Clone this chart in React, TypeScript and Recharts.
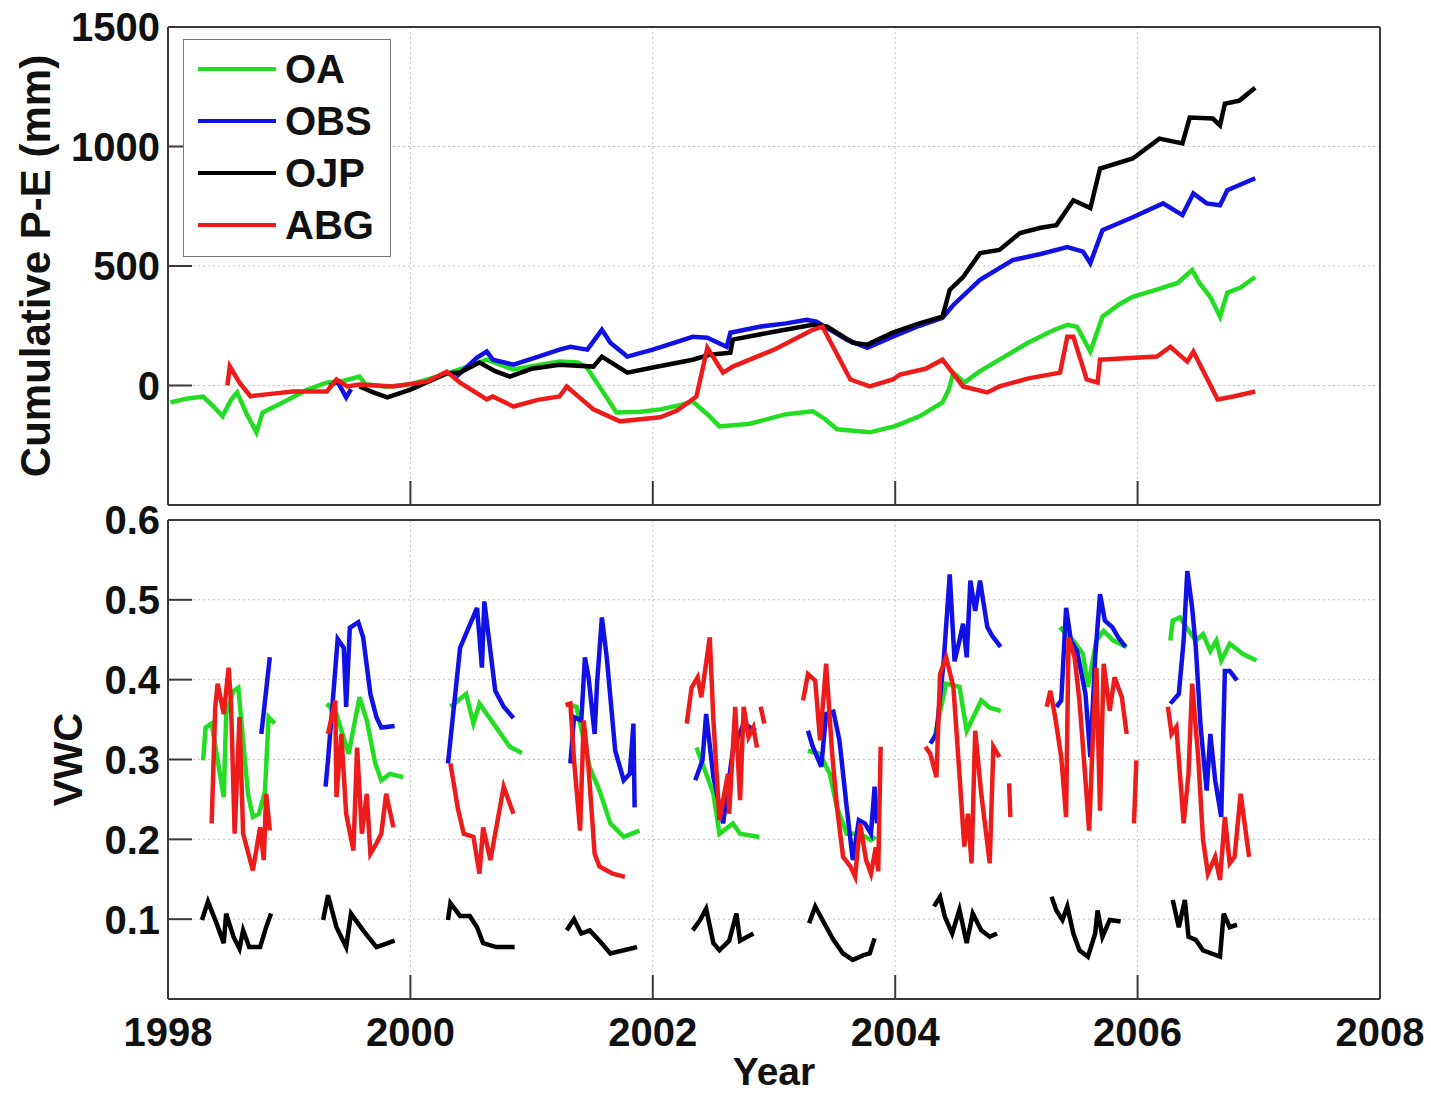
import { LineChart, Line, XAxis, YAxis, CartesianGrid, Legend } from 'recharts';

type Pt = [number, number];

const YEAR_TICKS = [1998, 2000, 2002, 2004, 2006, 2008];
const PE_TICKS = [0, 500, 1000, 1500];
const VWC_TICKS = [0.1, 0.2, 0.3, 0.4, 0.5, 0.6];

const SITES = ['OA', 'OBS', 'OJP', 'ABG'];
const COLORS = ['#22dd22', '#1111e6', '#000000', '#ee1b1b'];

// cumulative P-E (mm) as [year, value]
const peOA: Pt[][] = [[
  [1998.02, -71], [1998.15, -55], [1998.29, -46], [1998.38, -90], [1998.45, -129], [1998.52, -60], [1998.57, -29],
  [1998.65, -120], [1998.73, -196], [1998.78, -113], [1998.95, -70], [1999.15, -17], [1999.31, 12], [1999.45, 20],
  [1999.58, 37], [1999.63, 5], [1999.8, -5], [2000.0, 5], [2000.3, 50], [2000.45, 75], [2000.63, 108], [2000.85, 67],
  [2001.05, 85], [2001.23, 100], [2001.38, 96], [2001.45, 79], [2001.58, -20], [2001.7, -113], [2001.9, -110],
  [2002.06, -100], [2002.2, -85], [2002.33, -67], [2002.45, -120], [2002.55, -171], [2002.8, -160], [2003.1, -120],
  [2003.32, -108], [2003.42, -140], [2003.52, -183], [2003.79, -196], [2004.0, -170], [2004.2, -129], [2004.39, -71],
  [2004.44, -20], [2004.48, 54], [2004.57, 12], [2004.7, 60], [2004.86, 108], [2005.1, 180], [2005.3, 230],
  [2005.42, 254], [2005.5, 246], [2005.61, 142], [2005.71, 288], [2005.85, 340], [2005.96, 371], [2006.15, 400],
  [2006.33, 429], [2006.45, 483], [2006.51, 429], [2006.6, 370], [2006.68, 288], [2006.74, 388], [2006.85, 410],
  [2006.97, 454],
]];
const peOBS: Pt[][] = [
  [[1999.33, 0], [1999.4, 15], [1999.47, -50], [1999.51, -15]],
  [
    [2000.38, 37], [2000.55, 117], [2000.63, 142], [2000.68, 108], [2000.85, 87], [2001.05, 120], [2001.23, 150],
    [2001.32, 162], [2001.46, 150], [2001.58, 233], [2001.65, 179], [2001.79, 121], [2002.0, 150], [2002.33, 204],
    [2002.45, 200], [2002.61, 162], [2002.64, 221], [2002.88, 246], [2003.1, 260], [2003.27, 275], [2003.35, 267],
    [2003.6, 192], [2003.77, 158], [2003.98, 204], [2004.2, 250], [2004.39, 283], [2004.48, 337], [2004.7, 442],
    [2004.97, 525], [2005.2, 550], [2005.42, 579], [2005.55, 560], [2005.61, 512], [2005.71, 650], [2005.96, 704],
    [2006.21, 762], [2006.37, 713], [2006.46, 804], [2006.57, 762], [2006.68, 754], [2006.74, 817], [2006.97, 867],
  ],
];
const peOJP: Pt[][] = [[
  [1999.58, -4], [1999.7, -30], [1999.81, -50], [2000.0, -17], [2000.3, 50], [2000.41, 54], [2000.57, 96],
  [2000.7, 60], [2000.82, 37], [2001.0, 70], [2001.23, 87], [2001.51, 79], [2001.58, 121], [2001.79, 54],
  [2002.0, 75], [2002.33, 108], [2002.47, 129], [2002.64, 137], [2002.66, 192], [2003.0, 225], [2003.32, 254],
  [2003.44, 246], [2003.65, 179], [2003.77, 171], [2003.98, 221], [2004.2, 260], [2004.39, 288], [2004.45, 400],
  [2004.56, 454], [2004.7, 554], [2004.86, 567], [2005.03, 638], [2005.2, 660], [2005.33, 671], [2005.47, 775],
  [2005.61, 742], [2005.69, 908], [2005.96, 950], [2006.18, 1033], [2006.37, 1013], [2006.43, 1121],
  [2006.62, 1117], [2006.68, 1088], [2006.72, 1179], [2006.84, 1192], [2006.97, 1246],
]];
const peABG: Pt[][] = [[
  [1998.49, 0], [1998.51, 80], [1998.59, 12], [1998.68, -45], [1998.85, -35], [1999.03, -25], [1999.31, -25],
  [1999.39, 25], [1999.48, -4], [1999.58, 4], [1999.86, -4], [2000.14, 17], [2000.3, 58], [2000.41, 12],
  [2000.63, -58], [2000.68, -46], [2000.85, -88], [2001.05, -60], [2001.23, -46], [2001.29, -4], [2001.51, -100],
  [2001.73, -150], [2002.06, -133], [2002.2, -105], [2002.36, -46], [2002.45, 158], [2002.58, 54], [2002.66, 79],
  [2003.0, 150], [2003.32, 233], [2003.4, 246], [2003.63, 25], [2003.79, -4], [2003.98, 25], [2004.04, 46],
  [2004.25, 70], [2004.39, 108], [2004.56, -4], [2004.76, -29], [2004.86, -4], [2005.1, 30], [2005.36, 54],
  [2005.42, 204], [2005.47, 204], [2005.58, 25], [2005.67, 12], [2005.69, 108], [2006.16, 121], [2006.27, 162],
  [2006.41, 100], [2006.46, 142], [2006.66, -58], [2006.79, -46], [2006.97, -25],
]];

// soil volumetric water content, one list per growing season
const vwcOA: Pt[][] = [
  [[1998.29, 0.299], [1998.31, 0.34], [1998.36, 0.345], [1998.46, 0.253], [1998.48, 0.357], [1998.54, 0.386],
    [1998.58, 0.39], [1998.66, 0.257], [1998.7, 0.228], [1998.75, 0.232], [1998.8, 0.26], [1998.83, 0.353], [1998.88, 0.345]],
  [[1999.31, 0.37], [1999.39, 0.357], [1999.49, 0.307], [1999.58, 0.378], [1999.64, 0.349], [1999.71, 0.295],
    [1999.76, 0.274], [1999.83, 0.282], [1999.94, 0.278]],
  [[2000.33, 0.366], [2000.46, 0.382], [2000.52, 0.345], [2000.57, 0.37], [2000.82, 0.316], [2000.92, 0.308]],
  [[2001.29, 0.37], [2001.37, 0.366], [2001.48, 0.29], [2001.56, 0.261], [2001.65, 0.22], [2001.76, 0.203], [2001.89, 0.211]],
  [[2002.36, 0.315], [2002.41, 0.295], [2002.5, 0.257], [2002.55, 0.207], [2002.66, 0.22], [2002.72, 0.207], [2002.88, 0.203]],
  [[2003.28, 0.311], [2003.38, 0.307], [2003.46, 0.282], [2003.52, 0.24], [2003.6, 0.207], [2003.71, 0.207],
    [2003.8, 0.199], [2003.84, 0.203]],
  [[2004.32, 0.324], [2004.42, 0.395], [2004.53, 0.391], [2004.59, 0.336], [2004.71, 0.374], [2004.78, 0.365], [2004.87, 0.361]],
  [[2005.36, 0.466], [2005.41, 0.457], [2005.47, 0.449], [2005.55, 0.432], [2005.59, 0.391], [2005.66, 0.449],
    [2005.72, 0.461], [2005.8, 0.449], [2005.91, 0.441]],
  [[2006.27, 0.449], [2006.29, 0.474], [2006.35, 0.478], [2006.4, 0.466], [2006.48, 0.449], [2006.54, 0.457],
    [2006.6, 0.436], [2006.65, 0.449], [2006.69, 0.424], [2006.76, 0.445], [2006.87, 0.432], [2006.98, 0.424]],
];
const vwcOBS: Pt[][] = [
  [[1998.77, 0.332], [1998.84, 0.428]],
  [[1999.3, 0.266], [1999.32, 0.299], [1999.36, 0.374], [1999.4, 0.451], [1999.45, 0.44], [1999.47, 0.366],
    [1999.5, 0.465], [1999.57, 0.472], [1999.61, 0.453], [1999.67, 0.382], [1999.72, 0.353], [1999.76, 0.34], [1999.87, 0.342]],
  [[2000.31, 0.295], [2000.41, 0.44], [2000.55, 0.49], [2000.59, 0.415], [2000.61, 0.498], [2000.7, 0.386],
    [2000.77, 0.366], [2000.85, 0.352]],
  [[2001.32, 0.295], [2001.35, 0.353], [2001.41, 0.349], [2001.44, 0.428], [2001.47, 0.403], [2001.52, 0.332],
    [2001.54, 0.395], [2001.58, 0.478], [2001.62, 0.428], [2001.69, 0.311], [2001.76, 0.274], [2001.81, 0.282],
    [2001.84, 0.345], [2001.85, 0.24]],
  [[2002.35, 0.274], [2002.41, 0.299], [2002.44, 0.357], [2002.5, 0.278], [2002.58, 0.22], [2002.66, 0.311],
    [2002.75, 0.345], [2002.85, 0.336]],
  [[2003.28, 0.336], [2003.32, 0.316], [2003.39, 0.291], [2003.43, 0.357], [2003.49, 0.36], [2003.54, 0.324],
    [2003.6, 0.24], [2003.65, 0.174], [2003.7, 0.224], [2003.75, 0.22], [2003.8, 0.207], [2003.83, 0.266], [2003.85, 0.22]],
  [[2004.29, 0.32], [2004.34, 0.332], [2004.4, 0.423], [2004.45, 0.532], [2004.49, 0.423], [2004.53, 0.449],
    [2004.56, 0.47], [2004.59, 0.428], [2004.62, 0.524], [2004.66, 0.486], [2004.7, 0.524], [2004.76, 0.466],
    [2004.8, 0.455], [2004.87, 0.441]],
  [[2005.33, 0.366], [2005.37, 0.374], [2005.41, 0.49], [2005.45, 0.449], [2005.5, 0.436], [2005.57, 0.382],
    [2005.61, 0.303], [2005.65, 0.428], [2005.69, 0.507], [2005.73, 0.474], [2005.79, 0.466], [2005.84, 0.453], [2005.9, 0.441]],
  [[2006.27, 0.37], [2006.34, 0.382], [2006.38, 0.449], [2006.41, 0.536], [2006.45, 0.49], [2006.48, 0.441],
    [2006.52, 0.341], [2006.57, 0.261], [2006.6, 0.332], [2006.64, 0.274], [2006.69, 0.228], [2006.72, 0.411],
    [2006.76, 0.411], [2006.82, 0.399]],
];
const vwcOJP: Pt[][] = [
  [[1998.28, 0.099], [1998.33, 0.122], [1998.4, 0.095], [1998.46, 0.07], [1998.48, 0.107], [1998.54, 0.078],
    [1998.59, 0.063], [1998.62, 0.086], [1998.67, 0.065], [1998.76, 0.065], [1998.81, 0.09], [1998.85, 0.107]],
  [[1999.28, 0.099], [1999.32, 0.13], [1999.39, 0.09], [1999.47, 0.065], [1999.51, 0.107], [1999.61, 0.086],
    [1999.72, 0.065], [1999.83, 0.071], [1999.87, 0.073]],
  [[2000.31, 0.099], [2000.33, 0.12], [2000.41, 0.104], [2000.49, 0.104], [2000.55, 0.09], [2000.6, 0.07],
    [2000.71, 0.065], [2000.86, 0.065]],
  [[2001.29, 0.086], [2001.35, 0.1], [2001.41, 0.082], [2001.48, 0.086], [2001.56, 0.073], [2001.65, 0.057],
    [2001.76, 0.061], [2001.87, 0.065]],
  [[2002.33, 0.086], [2002.39, 0.099], [2002.44, 0.113], [2002.5, 0.07], [2002.55, 0.061], [2002.63, 0.073],
    [2002.69, 0.107], [2002.72, 0.073], [2002.83, 0.082]],
  [[2003.29, 0.095], [2003.34, 0.116], [2003.4, 0.099], [2003.49, 0.074], [2003.57, 0.057], [2003.65, 0.049],
    [2003.74, 0.055], [2003.79, 0.057], [2003.83, 0.076]],
  [[2004.32, 0.116], [2004.37, 0.128], [2004.41, 0.103], [2004.47, 0.082], [2004.53, 0.112], [2004.59, 0.07],
    [2004.64, 0.107], [2004.71, 0.086], [2004.78, 0.078], [2004.84, 0.082]],
  [[2005.29, 0.128], [2005.33, 0.111], [2005.38, 0.099], [2005.42, 0.116], [2005.47, 0.082], [2005.52, 0.061],
    [2005.59, 0.053], [2005.65, 0.082], [2005.67, 0.111], [2005.71, 0.078], [2005.77, 0.099], [2005.86, 0.097]],
  [[2006.29, 0.124], [2006.34, 0.09], [2006.39, 0.124], [2006.42, 0.078], [2006.48, 0.074], [2006.54, 0.061],
    [2006.61, 0.057], [2006.68, 0.053], [2006.71, 0.107], [2006.76, 0.09], [2006.82, 0.093]],
];
const vwcABG: Pt[][] = [
  [[1998.36, 0.22], [1998.39, 0.366], [1998.41, 0.395], [1998.46, 0.357], [1998.5, 0.415], [1998.52, 0.37],
    [1998.55, 0.207], [1998.59, 0.353], [1998.62, 0.207], [1998.7, 0.161], [1998.76, 0.215], [1998.79, 0.174],
    [1998.81, 0.257], [1998.84, 0.211]],
  [[1999.32, 0.332], [1999.38, 0.374], [1999.39, 0.253], [1999.43, 0.332], [1999.47, 0.232], [1999.53, 0.186],
    [1999.56, 0.315], [1999.6, 0.207], [1999.64, 0.257], [1999.67, 0.182], [1999.72, 0.195], [1999.76, 0.207],
    [1999.8, 0.257], [1999.86, 0.215]],
  [[2000.33, 0.295], [2000.39, 0.24], [2000.44, 0.207], [2000.52, 0.203], [2000.57, 0.157], [2000.6, 0.215],
    [2000.66, 0.174], [2000.77, 0.266], [2000.85, 0.232]],
  [[2001.28, 0.368], [2001.32, 0.37], [2001.35, 0.299], [2001.4, 0.211], [2001.43, 0.349], [2001.47, 0.29],
    [2001.52, 0.182], [2001.56, 0.166], [2001.62, 0.161], [2001.67, 0.157], [2001.77, 0.153]],
  [[2002.28, 0.345], [2002.32, 0.39], [2002.37, 0.403], [2002.4, 0.378], [2002.47, 0.453], [2002.5, 0.349],
    [2002.55, 0.224], [2002.62, 0.282], [2002.63, 0.232], [2002.68, 0.366], [2002.72, 0.249], [2002.75, 0.366],
    [2002.79, 0.328], [2002.83, 0.34], [2002.86, 0.315]],
  [[2002.89, 0.366], [2002.92, 0.345]],
  [[2003.24, 0.374], [2003.28, 0.407], [2003.34, 0.399], [2003.38, 0.324], [2003.43, 0.42], [2003.48, 0.307],
    [2003.52, 0.24], [2003.57, 0.178], [2003.63, 0.166], [2003.67, 0.153], [2003.71, 0.22], [2003.76, 0.174],
    [2003.8, 0.157], [2003.84, 0.19], [2003.86, 0.16], [2003.88, 0.316]],
  [[2004.25, 0.316], [2004.29, 0.307], [2004.34, 0.278], [2004.37, 0.407], [2004.42, 0.428], [2004.48, 0.391],
    [2004.53, 0.282], [2004.57, 0.191], [2004.6, 0.232], [2004.63, 0.17], [2004.66, 0.336], [2004.71, 0.257],
    [2004.78, 0.17], [2004.81, 0.316], [2004.86, 0.303]],
  [[2004.94, 0.27], [2004.95, 0.228]],
  [[2005.25, 0.366], [2005.28, 0.386], [2005.32, 0.353], [2005.37, 0.303], [2005.41, 0.228], [2005.43, 0.453],
    [2005.48, 0.428], [2005.52, 0.374], [2005.57, 0.274], [2005.6, 0.211], [2005.63, 0.324], [2005.66, 0.415],
    [2005.69, 0.236], [2005.72, 0.42], [2005.77, 0.361], [2005.81, 0.403], [2005.87, 0.378], [2005.91, 0.332]],
  [[2005.97, 0.22], [2005.99, 0.299]],
  [[2006.25, 0.366], [2006.28, 0.332], [2006.32, 0.341], [2006.38, 0.22], [2006.42, 0.282], [2006.45, 0.395],
    [2006.5, 0.303], [2006.54, 0.199], [2006.58, 0.157], [2006.64, 0.178], [2006.68, 0.149], [2006.72, 0.228],
    [2006.76, 0.17], [2006.8, 0.178], [2006.85, 0.257], [2006.92, 0.178]],
];

const PE = [peOA, peOBS, peOJP, peABG];
const VWC = [vwcOA, vwcOBS, vwcOJP, vwcABG];

// flatten segments, putting a null between them so the line breaks
function toRows(segs: Pt[][]) {
  const rows: { x: number; y: number | null }[] = [];
  segs.forEach((s, i) => {
    if (i > 0) {
      const prev = segs[i - 1][segs[i - 1].length - 1][0];
      rows.push({ x: (prev + s[0][0]) / 2, y: null });
    }
    s.forEach(([x, y]) => rows.push({ x, y }));
  });
  return rows;
}

const FONT = '"Liberation Sans", Arial, Helvetica, sans-serif';
const AXIS = '#3a3a3a';
const TICK = 24;
const txt = { fontFamily: FONT, fontWeight: 700, fontSize: 40, fill: '#111' };

function LeftTick({ x, y, payload }: any) {
  return (
    <g>
      <line x1={x} x2={x + TICK} y1={y} y2={y} stroke={AXIS} strokeWidth={2} />
      <text x={x - 8} y={y} dy="0.36em" textAnchor="end" {...txt}>{payload.value}</text>
    </g>
  );
}
function RightTick({ x, y }: any) {
  return <line x1={x} x2={x - TICK} y1={y} y2={y} stroke={AXIS} strokeWidth={2} />;
}
function TopTick({ x, y }: any) {
  return <line x1={x} x2={x} y1={y} y2={y + TICK} stroke={AXIS} strokeWidth={2} />;
}
function BottomTick({ x, y }: any) {
  return <line x1={x} x2={x} y1={y} y2={y - TICK} stroke={AXIS} strokeWidth={2} />;
}
function BottomTickLabel({ x, y, payload }: any) {
  return (
    <g>
      <line x1={x} x2={x} y1={y} y2={y - TICK} stroke={AXIS} strokeWidth={2} />
      <text x={x} y={y + 47} textAnchor="middle" {...txt}>{payload.value}</text>
    </g>
  );
}

function yTitle(text: string, bx: number, size: number) {
  return ({ viewBox }: any) => {
    const cy = viewBox.y + viewBox.height / 2;
    return (
      <text x={bx} y={cy} transform={`rotate(-90 ${bx} ${cy})`} textAnchor="middle" {...txt} fontSize={size}>{text}</text>
    );
  };
}
function xTitle(text: string) {
  return ({ viewBox }: any) => (
    <text x={viewBox.x + viewBox.width / 2} y={viewBox.y + 86} textAnchor="middle" {...txt} fontSize={39}>{text}</text>
  );
}

function LegendBox({ payload }: any) {
  const items = [...(payload || [])].sort((a: any, b: any) => SITES.indexOf(a.value) - SITES.indexOf(b.value));
  return (
    <div style={{ position: 'relative', width: 208, height: 218, boxSizing: 'border-box', border: '1.5px solid #777', background: '#fff' }}>
      {items.map((e: any, i: number) => (
        <div key={e.value} style={{ position: 'absolute', left: 14, top: 29 + i * 52 - 20, height: 40, display: 'flex', alignItems: 'center' }}>
          <span style={{ display: 'inline-block', width: 78, height: 4, background: e.color, marginRight: 9 }} />
          <span style={{ fontFamily: FONT, fontWeight: 700, fontSize: 40, color: '#111', lineHeight: '40px' }}>{e.value}</span>
        </div>
      ))}
    </div>
  );
}

function Frame({ ticks, domain, labels }: { ticks: number[]; domain: number[]; labels: boolean }) {
  return [
    <XAxis key="xb" xAxisId={0} dataKey="x" type="number" domain={[1998, 2008]} ticks={YEAR_TICKS} interval={0}
      height={1} tickSize={0} tickMargin={0} tickLine={false} axisLine={{ stroke: AXIS, strokeWidth: 2 }}
      tick={labels ? <BottomTickLabel /> : <BottomTick />} label={labels ? { content: xTitle('Year') } : undefined} />,
    <XAxis key="xt" xAxisId="t" orientation="top" type="number" domain={[1998, 2008]} ticks={YEAR_TICKS} interval={0}
      height={1} tickSize={0} tickMargin={0} tickLine={false} axisLine={{ stroke: AXIS, strokeWidth: 2 }} tick={<TopTick />} />,
    <YAxis key="yr" yAxisId="r" orientation="right" type="number" domain={domain} ticks={ticks} interval={0}
      width={1} tickSize={0} tickMargin={0} tickLine={false} axisLine={{ stroke: AXIS, strokeWidth: 2 }} tick={<RightTick />} />,
  ];
}

export default function App() {
  return (
    <div style={{ position: 'absolute', left: 0, top: 0, width: 1431, height: 1095, background: '#fff' }}>
      <div style={{ position: 'absolute', left: 0, top: 0 }}>
        <LineChart width={1431} height={515} margin={{ top: 26, right: 50, bottom: 9, left: 8 }}>
          <CartesianGrid stroke="#c4c4c4" strokeDasharray="2 3" />
          {Frame({ ticks: PE_TICKS, domain: [-500, 1500], labels: false })}
          <YAxis yAxisId={0} type="number" domain={[-500, 1500]} ticks={PE_TICKS} interval={0} width={160}
            tickSize={0} tickMargin={0} tickLine={false} axisLine={{ stroke: AXIS, strokeWidth: 2 }}
            tick={<LeftTick />} label={{ content: yTitle('Cumulative P-E (mm)', 50, 42) }} />
          <Legend layout="vertical" align="center" verticalAlign="middle" content={<LegendBox />}
            wrapperStyle={{ left: 183, top: 39, width: 208, height: 218 }} />
          {SITES.map((s, i) => (
            <Line key={s} name={s} data={toRows(PE[i])} dataKey="y" type="linear" stroke={COLORS[i]}
              strokeWidth={4.5} dot={false} isAnimationActive={false} />
          ))}
        </LineChart>
      </div>
      <div style={{ position: 'absolute', left: 0, top: 480 }}>
        <LineChart width={1431} height={615} margin={{ top: 39, right: 50, bottom: 95, left: 8 }}>
          <CartesianGrid stroke="#c4c4c4" strokeDasharray="2 3" />
          {Frame({ ticks: VWC_TICKS, domain: [0, 0.6], labels: true })}
          <YAxis yAxisId={0} type="number" domain={[0, 0.6]} ticks={VWC_TICKS} interval={0} width={160}
            tickSize={0} tickMargin={0} tickLine={false} axisLine={{ stroke: AXIS, strokeWidth: 2 }}
            tick={<LeftTick />} label={{ content: yTitle('VWC', 82, 40) }} />
          {SITES.map((s, i) => (
            <Line key={s} name={s} data={toRows(VWC[i])} dataKey="y" type="linear" stroke={COLORS[i]}
              strokeWidth={4.5} dot={false} isAnimationActive={false} />
          ))}
        </LineChart>
      </div>
    </div>
  );
}
